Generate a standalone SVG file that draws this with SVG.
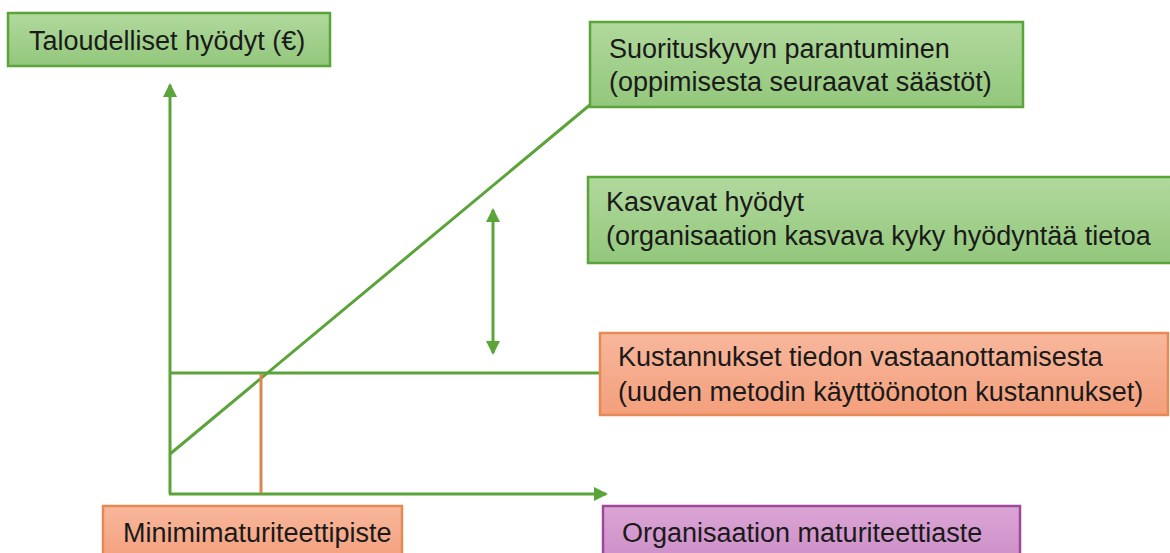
<svg xmlns="http://www.w3.org/2000/svg" width="1170" height="553" viewBox="0 0 1170 553">
<style>
text{font-family:"Liberation Sans",Arial,sans-serif;font-size:27px;fill:#1a1a1a}
.g{fill:url(#gg);stroke:#5aa43a;stroke-width:2.5}
.o{fill:url(#og);stroke:#e58a55;stroke-width:2.5}
.p{fill:url(#pg);stroke:#a0479a;stroke-width:2.5}
.ln{stroke:#5aa43a;stroke-width:3;fill:none}
.lo{stroke:#d98650;stroke-width:3;fill:none}
</style>
<defs>
<linearGradient id="gg" x1="0" y1="0" x2="0" y2="1"><stop offset="0" stop-color="#b1d99d"/><stop offset="1" stop-color="#93c77c"/></linearGradient>
<linearGradient id="og" x1="0" y1="0" x2="0" y2="1"><stop offset="0" stop-color="#f8b79c"/><stop offset="1" stop-color="#f39f7c"/></linearGradient>
<linearGradient id="pg" x1="0" y1="0" x2="0" y2="1"><stop offset="0" stop-color="#dba5d6"/><stop offset="1" stop-color="#cc8ec7"/></linearGradient>
<marker id="ah" viewBox="0 0 14 14" refX="12" refY="7" markerWidth="14" markerHeight="14" markerUnits="userSpaceOnUse" orient="auto-start-reverse"><path d="M0,0 L14,7 L0,14 Z" fill="#5aa43a"/></marker>
</defs>
<g id="connectors">
<line class="ln" x1="170" y1="494" x2="170" y2="85" marker-end="url(#ah)"/>
<line class="ln" x1="169" y1="494" x2="606" y2="494" marker-end="url(#ah)"/>
<line class="ln" x1="170" y1="454" x2="591" y2="104"/>
<line class="ln" x1="170" y1="373" x2="600" y2="373"/>
<line class="lo" x1="261" y1="374" x2="261" y2="493"/>
<line class="ln" x1="493" y1="210" x2="493" y2="353" marker-start="url(#ah)" marker-end="url(#ah)"/>
</g>
<g id="n1"><rect class="g" x="8" y="13" width="322" height="53"/><text x="29" y="50">Taloudelliset hyödyt (€)</text></g>
<g id="n2"><rect class="g" x="590" y="22" width="433" height="85"/><text x="609" y="58">Suorituskyvyn parantuminen</text><text x="609" y="91">(oppimisesta seuraavat säästöt)</text></g>
<g id="n3"><rect class="g" x="588" y="177" width="590" height="86"/><text x="606" y="211">Kasvavat hyödyt</text><text x="606" y="245">(organisaation kasvava kyky hyödyntää tietoa</text></g>
<g id="n4"><rect class="o" x="600" y="333" width="568" height="82"/><text x="618" y="366">Kustannukset tiedon vastaanottamisesta</text><text x="618" y="401">(uuden metodin käyttöönoton kustannukset)</text></g>
<g id="n5"><rect class="o" x="103" y="506" width="299" height="56"/><text x="123" y="542">Minimimaturiteettipiste</text></g>
<g id="n6"><rect class="p" x="603" y="506" width="417" height="56"/><text x="622" y="542">Organisaation maturiteettiaste</text></g>
</svg>
